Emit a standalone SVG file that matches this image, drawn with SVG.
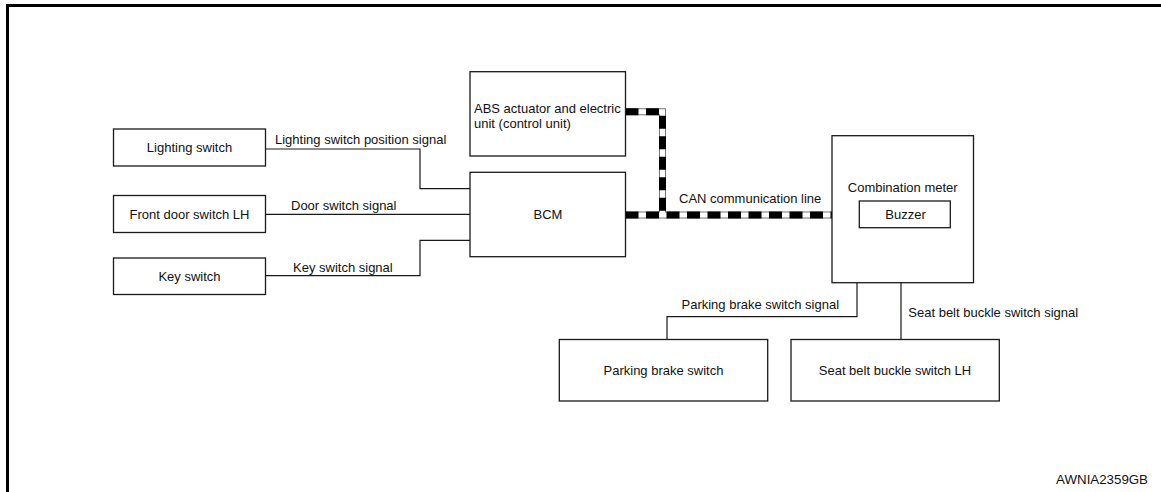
<svg xmlns="http://www.w3.org/2000/svg" width="1161" height="492" viewBox="0 0 1161 492">
<style>
.box{fill:#fff;stroke:#1a1a1a;stroke-width:1.3}
.w{fill:none;stroke:#1a1a1a;stroke-width:1.2}
text{font-family:"Liberation Sans",Arial,sans-serif;font-size:13px;fill:#111}
.c{text-anchor:middle}
.canbg{fill:none;stroke:#777;stroke-width:7}
.canw{fill:none;stroke:#fff;stroke-width:5}
.canb{fill:none;stroke:#000;stroke-width:7;stroke-dasharray:13 7.5}
</style>
<rect width="1161" height="492" fill="#fff"/>
<g id="frame">
<line x1="6" y1="5.5" x2="1161" y2="5.5" stroke="#000" stroke-width="3"/>
<line x1="7.5" y1="4" x2="7.5" y2="492" stroke="#000" stroke-width="3"/>
</g>
<g id="connectors">
<path class="w" d="M265.5 149 H420 V188.7 H470"/>
<path class="w" d="M265.5 214.3 H470"/>
<path class="w" d="M265.5 275.7 H420 V240.3 H470"/>
<path class="w" d="M857 283 V316.7 H667 V339.5"/>
<path class="w" d="M901 283 V339.5"/>
<g id="can">
<path class="canbg" d="M625.5 111.7 H662.5 V215"/>
<path class="canbg" d="M625.5 215 H832"/>
<path class="canw" d="M625.5 111.7 H662.5 V215"/>
<path class="canw" d="M625.5 215 H832"/>
<path class="canb" d="M625.5 111.7 H662.5 V215"/>
<path class="canb" d="M625.5 215 H832"/>
</g>
</g>
<g id="lighting-switch"><rect class="box" x="113.5" y="129" width="152" height="37"/><text class="c" x="189.5" y="152">Lighting switch</text></g>
<g id="front-door-switch"><rect class="box" x="113.5" y="195.5" width="152" height="37"/><text class="c" x="189.5" y="218.5">Front door switch LH</text></g>
<g id="key-switch"><rect class="box" x="113.5" y="258" width="152" height="36.5"/><text class="c" x="189.5" y="281">Key switch</text></g>
<g id="abs"><rect class="box" x="470" y="71.7" width="155.5" height="84.3"/><text x="474" y="113">ABS actuator and electric</text><text x="474" y="127.5">unit (control unit)</text></g>
<g id="bcm"><rect class="box" x="470" y="172.3" width="155.5" height="84.4"/><text class="c" x="548" y="219">BCM</text></g>
<g id="combination-meter"><rect class="box" x="832" y="135.7" width="141.5" height="147"/><text class="c" x="902.7" y="192">Combination meter</text>
<g id="buzzer"><rect class="box" x="859.3" y="201" width="91" height="26.7"/><text class="c" x="905.5" y="219">Buzzer</text></g></g>
<g id="parking-brake-switch"><rect class="box" x="559.3" y="339.5" width="208.4" height="61.5"/><text class="c" x="663.5" y="374.5">Parking brake switch</text></g>
<g id="seat-belt-switch"><rect class="box" x="791" y="339.5" width="208.3" height="61.5"/><text class="c" x="895" y="374.5">Seat belt buckle switch LH</text></g>
<g id="labels">
<text x="275" y="144">Lighting switch position signal</text>
<text x="291" y="210">Door switch signal</text>
<text x="293" y="271.7">Key switch signal</text>
<text x="679" y="203.3">CAN communication line</text>
<text x="681.5" y="309.3">Parking brake switch signal</text>
<text x="908.3" y="316.7">Seat belt buckle switch signal</text>
<text x="1148" y="484" text-anchor="end" style="font-size:13.3px">AWNIA2359GB</text>
</g>
</svg>
